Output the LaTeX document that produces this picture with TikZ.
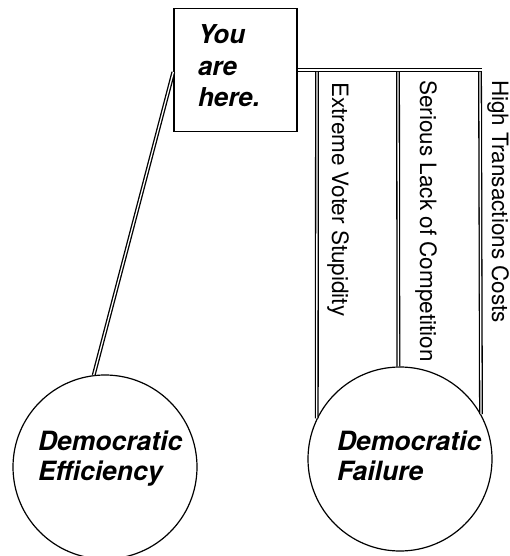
\documentclass[tikz,border=0pt]{standalone}
\usepackage{fontspec}
\setmainfont{TeX Gyre Heros}
\begin{document}
\begin{tikzpicture}[x=1pt, y=-1pt,
			hbox/.style={draw, line width=1.3pt, minimum width=123pt, minimum height=123pt, text width=75pt, inner xsep=24pt, inner ysep=0pt, text depth=71pt, align=left, font=\fontsize{26}{31.5}\selectfont\bfseries\itshape},
			bubble/.style={draw, circle, line width=1.2pt, minimum size=184pt, align=left, inner sep=0pt, font=\fontsize{26.5}{30}\selectfont\bfseries\itshape},
			rail/.style={double, line width=1.3pt, double distance=1.3pt},
			cause/.style={rotate=-90, anchor=base west, inner sep=0pt, font=\fontsize{22.5}{26}\selectfont}
		]
			\useasboundingbox (0,0) rectangle (509,556);

			\node[hbox] (here) at (235.5,70) {You\\are\\here.};
			\node[bubble, text width=134pt, text depth=52.7pt] (eff) at (105,467) {Democratic\\Efficiency};
			\node[bubble, text width=126pt, text depth=36.7pt] (fail) at (400,459) {Democratic\\Failure};

			\coordinate (barend) at (482,70);
			\coordinate (top1) at (317,71.9);
			\coordinate (top2) at (398,71.9);
			\coordinate (top3) at (480,71.9);

			\draw[rail] ([yshift=-2pt]here.west) -- (eff.97);
			\draw[rail] (here.east) -- (barend);
			\draw[rail] (top1) -- (fail.154);
			\draw[rail] (top2) -- (fail.91);
			\draw[rail] (top3) -- (fail.29);

			\node[cause] (stupid) at (332,82) {Extreme Voter Stupidity};
			\node[cause] (compet) at (420,80) {Serious Lack of Competition};
			\node[cause] (costs) at (492,80) {High Transactions Costs};
		\end{tikzpicture}
\end{document}
